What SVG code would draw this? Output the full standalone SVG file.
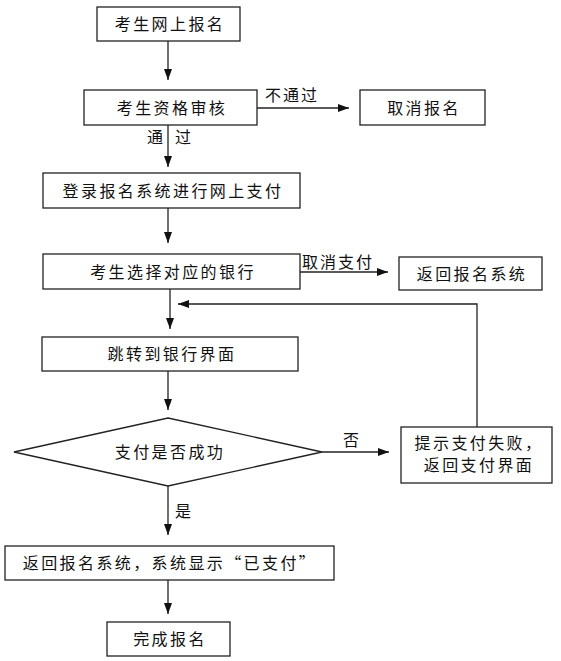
<svg xmlns="http://www.w3.org/2000/svg" width="561" height="661" viewBox="0 0 561 661">
<defs>
<style>
.box{fill:#fff;stroke:#222;stroke-width:1.3}
.t{font-family:"Noto Sans CJK SC","Noto Sans",sans-serif;font-size:16px;letter-spacing:2.4px;fill:#111;text-anchor:middle}
.lb{font-family:"Noto Sans CJK SC","Noto Sans",sans-serif;font-size:16px;letter-spacing:2px;fill:#111}
.ln{fill:none;stroke:#222;stroke-width:1.3}
</style>
<marker id="ah" markerUnits="userSpaceOnUse" markerWidth="12" markerHeight="10" refX="11" refY="5" orient="auto">
<path d="M0,1 L11,5 L0,9 Z" fill="#111"/>
</marker>
</defs>
<rect width="561" height="661" fill="#fff"/>
<g id="connectors">
<line class="ln" x1="168" y1="41" x2="168" y2="80" marker-end="url(#ah)"/>
<line class="ln" x1="257" y1="108" x2="349" y2="108" marker-end="url(#ah)"/>
<line class="ln" x1="168" y1="125" x2="168" y2="167" marker-end="url(#ah)"/>
<line class="ln" x1="168" y1="208" x2="168" y2="243" marker-end="url(#ah)"/>
<line class="ln" x1="300" y1="272" x2="388" y2="272" marker-end="url(#ah)"/>
<line class="ln" x1="170" y1="289" x2="170" y2="329" marker-end="url(#ah)"/>
<polyline class="ln" points="477,427 477,304 178,304" marker-end="url(#ah)"/>
<line class="ln" x1="168" y1="371" x2="168" y2="410" marker-end="url(#ah)"/>
<line class="ln" x1="322" y1="452" x2="389" y2="452" marker-end="url(#ah)"/>
<line class="ln" x1="168" y1="486" x2="168" y2="535" marker-end="url(#ah)"/>
<line class="ln" x1="168" y1="580" x2="168" y2="614" marker-end="url(#ah)"/>
<text class="lb" x="265" y="101">不通过</text>
<text class="lb" x="147" y="143">通</text>
<text class="lb" x="175" y="143">过</text>
<text class="lb" x="302" y="268">取消支付</text>
<text class="lb" x="343" y="446">否</text>
<text class="lb" x="175" y="517">是</text>
</g>
<g id="n1"><rect class="box" x="97" y="7" width="143" height="34"/><text class="t" x="170" y="29.5">考生网上报名</text></g>
<g id="n2"><rect class="box" x="84" y="90" width="173" height="35"/><text class="t" x="172" y="113.5">考生资格审核</text></g>
<g id="n3"><rect class="box" x="360" y="90" width="125" height="35"/><text class="t" x="424" y="113.5">取消报名</text></g>
<g id="n4"><rect class="box" x="43" y="173" width="257" height="35"/><text class="t" x="173" y="196.5">登录报名系统进行网上支付</text></g>
<g id="n5"><rect class="box" x="43" y="254" width="257" height="35"/><text class="t" x="173" y="277.5">考生选择对应的银行</text></g>
<g id="n6"><rect class="box" x="399" y="257" width="143" height="33"/><text class="t" x="472" y="279.5">返回报名系统</text></g>
<g id="n7"><rect class="box" x="42" y="337" width="256" height="34"/><text class="t" x="172" y="359.5">跳转到银行界面</text></g>
<g id="n8"><polygon class="box" points="168,418 322,452 168,486 14,452"/><text class="t" x="170" y="457.5">支付是否成功</text></g>
<g id="n9"><rect class="box" x="401" y="427" width="151" height="56"/><text class="t" x="479" y="448.5">提示支付失败，</text><text class="t" x="479" y="470.5">返回支付界面</text></g>
<g id="n10"><rect class="box" x="5" y="546" width="329" height="34"/><text class="t" x="170" y="568.5">返回报名系统，系统显示“已支付”</text></g>
<g id="n11"><rect class="box" x="107" y="622" width="123" height="34"/><text class="t" x="170" y="644.5">完成报名</text></g>
</svg>
